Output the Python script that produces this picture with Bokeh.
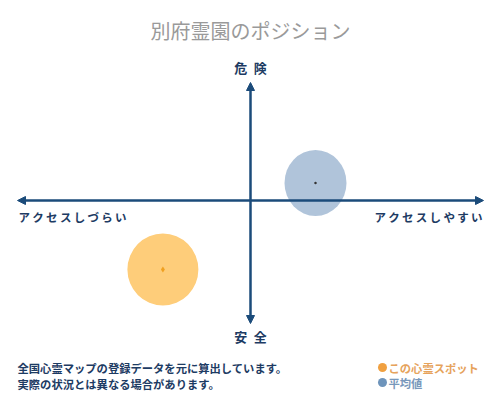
from bokeh.plotting import figure
from bokeh.models import Range1d, Label, Arrow, NormalHead
from bokeh.embed import file_html
from bokeh.resources import INLINE

# ---- data ----
series_names = ["この心霊スポット", "平均値"]
access_scores = [-37.6, 27.9]      # x: アクセスしづらい(-) … アクセスしやすい(+)
danger_scores = [-57.5, 14.6]      # y: 安全(-) … 危険(+)
title_text = "別府霊園のポジション"
axis_labels = {"top": "危険", "bottom": "安全", "left": "アクセスしづらい", "right": "アクセスしやすい"}
note_lines = ["全国心霊マップの登録データを元に算出しています。", "実際の状況とは異なる場合があります。"]

FONT = "Noto Sans CJK JP"
NAVY = "#1b4b7a"
TEXT_NAVY = "#1d3b63"
W, H = 500, 400
CX, CY = 250, 200    # axis crossing (px from top-left)
XS, YS = 2.33, 1.2   # px per data unit

p = figure(width=W, height=H, output_backend="svg", toolbar_location=None,
           x_range=Range1d(-CX / XS, (W - CX) / XS), y_range=Range1d(-(H - CY) / YS, CY / YS),
           x_axis_location=None, y_axis_location=None, min_border=0)
p.grid.visible = False
p.outline_line_color = None
p.background_fill_color = "white"
p.border_fill_color = "white"

def dx(px):
    return (px - CX) / XS

def dy(py):
    return (CY - py) / YS

# bubbles
bubble_fill = ["#fecd7a", "#b0c4da"]
bubble_w = [71, 62]
bubble_h = [72, 66]
for i in range(len(series_names)):
    p.ellipse(x=[access_scores[i]], y=[danger_scores[i]], width=bubble_w[i], height=bubble_h[i],
              width_units="screen", height_units="screen",
              fill_color=bubble_fill[i], line_color=None)
p.scatter(x=[access_scores[0]], y=[danger_scores[0]], size=6, marker="diamond",
          fill_color="#f0a020", line_color=None)
p.scatter(x=[access_scores[1]], y=[danger_scores[1]], size=2.5, marker="circle",
          fill_color="#333333", line_color=None)

# axes arrows
p.add_layout(Arrow(start=NormalHead(size=8, fill_color=NAVY, line_color=NAVY),
                   end=NormalHead(size=8, fill_color=NAVY, line_color=NAVY),
                   x_start=-100, y_start=0, x_end=100, y_end=0,
                   line_color=NAVY, line_width=2.5))
p.add_layout(Arrow(start=NormalHead(size=8, fill_color=NAVY, line_color=NAVY),
                   end=NormalHead(size=8, fill_color=NAVY, line_color=NAVY),
                   x_start=0, y_start=dy(323), x_end=0, y_end=dy(82),
                   line_color=NAVY, line_width=2.5))

def label(text, px, py, size, color, align="left", bold=False):
    p.add_layout(Label(x=px, y=H - py, x_units="screen", y_units="screen", text=text,
                       text_font=FONT, text_font_size=f"{size}px", text_color=color,
                       text_align=align, text_baseline="middle",
                       text_font_style="bold" if bold else "normal"))

def spaced(s, sp="\u2009"):
    return sp.join(s)

label(title_text, 250, 30, 20, "#9a9a9a", "center")
label(spaced(axis_labels["top"], "\u2002"), 250, 67, 13, TEXT_NAVY, "center", True)
label(spaced(axis_labels["bottom"], "\u2002"), 250, 336, 13, TEXT_NAVY, "center", True)
label(spaced(axis_labels["left"]), 18, 216, 11.5, TEXT_NAVY, "left", True)
label(spaced(axis_labels["right"]), 482, 216, 11.5, TEXT_NAVY, "right", True)
label(note_lines[0], 17, 367, 11.3, TEXT_NAVY, "left", True)
label(note_lines[1], 17, 383, 11.3, TEXT_NAVY, "left", True)

# legend
legend_colors = ["#f0a040", "#6e94bb"]
legend_text_colors = ["#e6a35c", "#7898bb"]
legend_y = [367, 382]
for i in range(len(series_names)):
    p.scatter(x=[dx(382)], y=[dy(legend_y[i])], size=9, marker="circle",
              fill_color=legend_colors[i], line_color=None)
    label(series_names[i], 388, legend_y[i], 11.3, legend_text_colors[i], "left", True)

open("out.html", "w").write(file_html(p, INLINE))
